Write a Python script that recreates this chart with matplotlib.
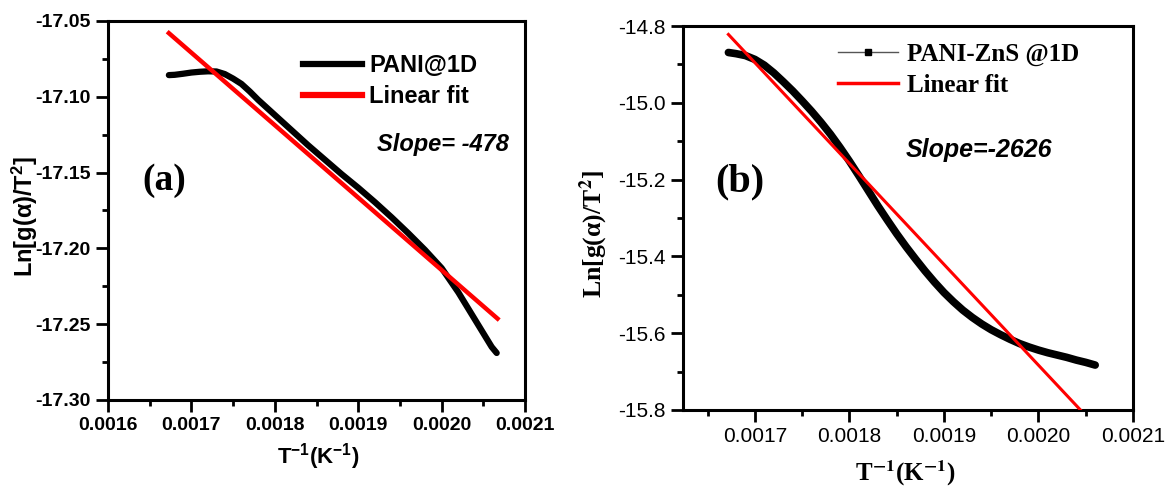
import numpy as np
import matplotlib
matplotlib.use('Agg')
import matplotlib.pyplot as plt
from matplotlib.lines import Line2D
from matplotlib.ticker import MultipleLocator, FormatStrFormatter

# PANI@1D : inverse temperature vs Ln[g(a)/T^2]
inv_t_a = [0.001673, 0.00168, 0.00169, 0.00170, 0.00171, 0.00172, 0.00173,
           0.00174, 0.00175, 0.00176, 0.00177, 0.00178, 0.00179, 0.00180,
           0.00182, 0.00184, 0.00186, 0.00188, 0.00190, 0.00192, 0.00194,
           0.00196, 0.00198, 0.00200, 0.00202, 0.00204, 0.00206, 0.002066]
ln_g_a = [-17.0857, -17.0855, -17.0848, -17.0840, -17.0835, -17.0832, -17.0833,
          -17.0850, -17.0880, -17.0915, -17.0965, -17.1020, -17.1070, -17.1120,
          -17.1220, -17.1320, -17.1415, -17.1510, -17.1600, -17.1695, -17.1795,
          -17.1900, -17.2010, -17.2130, -17.2290, -17.2470, -17.2650, -17.2690]
slope_a = -478
fit_a_x = [0.001673, 0.002067]
fit_a_y0 = -17.058

# PANI-ZnS @1D
inv_t_b = [0.001672, 0.00168, 0.00169, 0.00170, 0.00171, 0.00172, 0.00173,
           0.00174, 0.00175, 0.00176, 0.00177, 0.00178, 0.00179, 0.00180,
           0.00181, 0.00182, 0.00183, 0.00184, 0.00185, 0.00186, 0.00187,
           0.00188, 0.00189, 0.00190, 0.00191, 0.00192, 0.00193, 0.00194,
           0.00195, 0.00196, 0.00197, 0.00198, 0.00199, 0.00200, 0.00201,
           0.00202, 0.00203, 0.00204, 0.00205, 0.00206]
ln_g_b = [-14.869, -14.872, -14.877, -14.887, -14.902, -14.922, -14.945,
          -14.969, -14.995, -15.022, -15.051, -15.082, -15.116, -15.152,
          -15.190, -15.229, -15.268, -15.305, -15.341, -15.375, -15.407,
          -15.438, -15.467, -15.494, -15.518, -15.540, -15.559, -15.576,
          -15.591, -15.604, -15.616, -15.627, -15.636, -15.644, -15.651,
          -15.657, -15.663, -15.670, -15.676, -15.683]
slope_b = -2626
fit_b_x = [0.001672, 0.00206]
fit_b_y0 = -14.822

plt.rcParams['axes.unicode_minus'] = False
plt.rcParams['mathtext.fontset'] = 'custom'
plt.rcParams['mathtext.rm'] = 'Liberation Sans:bold'
plt.rcParams['mathtext.bf'] = 'Liberation Sans:bold'
plt.rcParams['mathtext.it'] = 'Liberation Sans:bold:italic'

SANS = 'Liberation Sans'
SERIF = 'Liberation Serif'

fig = plt.figure(figsize=(11.66, 4.86), dpi=100, facecolor='white')
ax1 = fig.add_axes([0.0926, 0.1770, 0.3577, 0.7798])
ax2 = fig.add_axes([0.5858, 0.1564, 0.3859, 0.7901])


def style_axes(ax, bold):
    for s in ax.spines.values():
        s.set_linewidth(2.2)
    ax.tick_params(which='major', direction='out', length=8.5, width=2,
                   top=False, right=False)
    ax.tick_params(which='minor', direction='out', length=4, width=2,
                   top=False, right=False)
    for lab in ax.get_xticklabels() + ax.get_yticklabels():
        lab.set_family(SANS)
        lab.set_fontweight('bold' if bold else 'normal')


# ---- panel (a)
x = np.array(inv_t_a)
ax1.plot(x, ln_g_a, color='black', lw=4.5, solid_capstyle='round', zorder=2)
fx = np.array(fit_a_x)
ax1.plot(fx, fit_a_y0 + slope_a * (fx - fx[0]), color='red', lw=3.2, zorder=3)
ax1.set_xlim(0.0016, 0.0021)
ax1.set_ylim(-17.30, -17.05)
ax1.xaxis.set_major_locator(MultipleLocator(0.0001))
ax1.xaxis.set_minor_locator(MultipleLocator(0.00005))
ax1.yaxis.set_major_locator(MultipleLocator(0.05))
ax1.yaxis.set_minor_locator(MultipleLocator(0.025))
ax1.xaxis.set_major_formatter(FormatStrFormatter('%.4f'))
ax1.yaxis.set_major_formatter(FormatStrFormatter('%.2f'))
ax1.tick_params(labelsize=14, pad=4)
style_axes(ax1, True)

ax1.set_xlabel(r'T$^{\mathbf{-1}}$(K$^{\mathbf{-1}}$)', fontsize=16,
               family=SANS, fontweight='bold')
ax1.set_ylabel(r'Ln[g(α)/T$^{\mathbf{2}}$]', fontsize=17,
               family=SANS, fontweight='bold')
ax1.xaxis.set_label_coords(0.504, -0.150)
ax1.yaxis.set_label_coords(-0.199, 0.483)
ax1.xaxis.label.set_va('center')
ax1.yaxis.label.set_va('center')

h_a = [Line2D([], [], color='black', lw=4.5),
       Line2D([], [], color='red', lw=4.5)]
ax1.legend(h_a, ['PANI@1D', 'Linear fit'], loc='upper left',
           bbox_to_anchor=(0.4676, 0.913), frameon=False, borderpad=0,
           borderaxespad=0, handlelength=2.5, handletextpad=0.3,
           labelspacing=0.35, prop={'family': SANS, 'weight': 'bold', 'size': 17})
ax1.text(0.645, 0.673, 'Slope= %d' % slope_a, transform=ax1.transAxes,
         family=SANS, fontweight='bold', fontstyle='italic', fontsize=17,
         ha='left', va='center')
ax1.text(0.134, 0.580, '(a)', transform=ax1.transAxes, family=SERIF,
         fontweight='bold', fontsize=27, ha='center', va='center')

# ---- panel (b)
x = np.array(inv_t_b)
ax2.plot(x, ln_g_b, color='black', lw=5.5, solid_capstyle='round', zorder=2)
fx = np.array(fit_b_x)
ax2.plot(fx, fit_b_y0 + slope_b * (fx - fx[0]), color='red', lw=2.2, zorder=3)
ax2.set_xlim(0.001624, 0.0021)
ax2.set_ylim(-15.8, -14.8)
ax2.xaxis.set_major_locator(MultipleLocator(0.0001))
ax2.xaxis.set_minor_locator(MultipleLocator(0.00005))
ax2.yaxis.set_major_locator(MultipleLocator(0.2))
ax2.yaxis.set_minor_locator(MultipleLocator(0.1))
ax2.xaxis.set_major_formatter(FormatStrFormatter('%.4f'))
ax2.yaxis.set_major_formatter(FormatStrFormatter('%.1f'))
ax2.tick_params(axis='x', labelsize=15, pad=4)
ax2.tick_params(axis='y', labelsize=15, pad=4)
style_axes(ax2, False)

ax2.set_xlabel(r'T$^{\mathbf{-1}}$(K$^{\mathbf{-1}}$)', fontsize=18,
               family=SERIF, fontweight='bold', math_fontfamily='stix')
ax2.set_ylabel(r'Ln[g(α)/T$^{\mathbf{2}}$]', fontsize=18.5,
               family=SERIF, fontweight='bold', math_fontfamily='stix')
ax2.xaxis.set_label_coords(0.493, -0.164)
ax2.yaxis.set_label_coords(-0.198, 0.458)
ax2.xaxis.label.set_va('center')
ax2.yaxis.label.set_va('center')

h_b = [Line2D([], [], color='#555555', lw=1, marker='s', ms=4,
              mfc='black', mec='black'),
       Line2D([], [], color='red', lw=2.5)]
ax2.legend(h_b, ['PANI-ZnS @1D', 'Linear fit'], loc='upper left',
           bbox_to_anchor=(0.344, 0.956), frameon=False, borderpad=0,
           borderaxespad=0, handlelength=2.4, handletextpad=0.35,
           labelspacing=0.3, prop={'family': SERIF, 'weight': 'bold', 'size': 18})
ax2.text(0.4956, 0.677, 'Slope=%d' % slope_b, transform=ax2.transAxes,
         family=SANS, fontweight='bold', fontstyle='italic', fontsize=18,
         ha='left', va='center')
ax2.text(0.127, 0.594, '(b)', transform=ax2.transAxes, family=SERIF,
         fontweight='bold', fontsize=29, ha='center', va='center')

fig.savefig('out.png', dpi=100, facecolor='white')
